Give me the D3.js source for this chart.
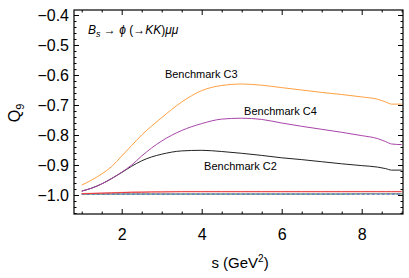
<!DOCTYPE html>
<html>
<head>
<meta charset="utf-8">
<script src="https://cdn.jsdelivr.net/npm/d3@7"></script>
<style>
  body { margin: 0; background: #fff; }
  text { font-family: "Liberation Sans", Arial, sans-serif; }
</style>
</head>
<body>
<svg width="409" height="278"></svg>
<script>
// s values (GeV^2) where the curves are sampled
const sVals = [1, 1.25, 1.5, 1.75, 2, 2.25, 2.5, 2.75, 3, 3.5, 4, 4.5, 5, 5.5, 6, 6.5, 7, 7.5, 8, 8.4, 8.6, 8.75, 9];
// benchmark curves
const c3 = [-0.967, -0.950, -0.930, -0.905, -0.870, -0.835, -0.800, -0.770, -0.742, -0.690, -0.652, -0.635, -0.630, -0.634, -0.642, -0.650, -0.658, -0.665, -0.673, -0.681, -0.690, -0.697, -0.697];
const c4 = [-0.987, -0.977, -0.963, -0.945, -0.924, -0.900, -0.870, -0.843, -0.820, -0.785, -0.762, -0.747, -0.744, -0.748, -0.760, -0.771, -0.781, -0.791, -0.802, -0.812, -0.822, -0.830, -0.832];
const c2 = [-0.987, -0.977, -0.963, -0.945, -0.925, -0.904, -0.886, -0.873, -0.864, -0.853, -0.851, -0.855, -0.861, -0.868, -0.876, -0.882, -0.889, -0.896, -0.902, -0.907, -0.912, -0.917, -0.917];
// the flat ones near -1
const redLine = [-0.996, -0.995, -0.994, -0.993, -0.992, -0.991, -0.991, -0.990, -0.990, -0.989, -0.989, -0.989, -0.989, -0.989, -0.989, -0.989, -0.989, -0.989, -0.989, -0.989, -0.989, -0.989, -0.989];
const pinkLine = [-0.995, -0.994, -0.993, -0.992, -0.991, -0.990, -0.989, -0.989, -0.988, -0.988, -0.988, -0.988, -0.988, -0.988, -0.988, -0.988, -0.988, -0.988, -0.988, -0.988, -0.988, -0.988, -0.988];
const greenLine = [-0.997, -0.997, -0.997, -0.997, -0.997, -0.997, -0.997, -0.997, -0.997, -0.997, -0.997, -0.997, -0.997, -0.997, -0.997, -0.997, -0.997, -0.997, -0.996, -0.996, -0.996, -0.996, -0.996];
const blueLine = [-0.997, -0.997, -0.997, -0.997, -0.997, -0.997, -0.997, -0.997, -0.997, -0.997, -0.997, -0.997, -0.997, -0.997, -0.997, -0.997, -0.997, -0.997, -0.997, -0.997, -0.997, -0.997, -0.997];
const grayLine = [-0.996, -0.996, -0.996, -0.996, -0.996, -0.996, -0.996, -0.996, -0.996, -0.996, -0.996, -0.996, -0.996, -0.996, -0.996, -0.996, -0.996, -0.996, -0.996, -0.996, -0.996, -0.996, -0.996];

const xTicks = [2, 4, 6, 8];
const yTicks = [-1.0, -0.9, -0.8, -0.7, -0.6, -0.5, -0.4];

const svg = d3.select('svg');
const margin = {top: 10, right: 6, bottom: 64, left: 74};
const innerWidth = +svg.attr('width') - margin.left - margin.right;
const innerHeight = +svg.attr('height') - margin.top - margin.bottom;

const xScale = d3.scaleLinear().domain([0.8075, 9.0325]).range([0, innerWidth]);
const yScale = d3.scaleLinear().domain([-1.0633, -0.3833]).range([innerHeight, 0]);

const g = svg.append('g')
  .attr('transform', `translate(${margin.left}, ${margin.top})`);

// minor tick positions
const xMinor = d3.range(1, 9.01, 0.5).filter(v => xTicks.indexOf(v) < 0);
const yMinor = d3.range(-1.06, -0.38, 0.02).map(v => +v.toFixed(2))
  .filter(v => yTicks.every(t => Math.abs(t - v) > 1e-6));

// frame axes, ticks pointing inward, labels only on bottom and left
const fmt = d3.format('.1f');
g.append('g').attr('transform', `translate(0, ${innerHeight})`)
  .call(d3.axisBottom(xScale).tickValues(xTicks).tickSizeInner(-5).tickSizeOuter(0).tickPadding(15));
g.append('g').attr('transform', `translate(0, ${innerHeight})`)
  .call(d3.axisBottom(xScale).tickValues(xMinor).tickSizeInner(-2.5).tickSizeOuter(0).tickFormat(''));
g.append('g')
  .call(d3.axisTop(xScale).tickValues(xTicks).tickSizeInner(-5).tickSizeOuter(0).tickFormat(''));
g.append('g')
  .call(d3.axisTop(xScale).tickValues(xMinor).tickSizeInner(-2.5).tickSizeOuter(0).tickFormat(''));
g.append('g')
  .call(d3.axisLeft(yScale).tickValues(yTicks).tickSizeInner(-5).tickSizeOuter(0).tickPadding(5).tickFormat(fmt));
g.append('g')
  .call(d3.axisLeft(yScale).tickValues(yMinor).tickSizeInner(-2.5).tickSizeOuter(0).tickFormat(''));
g.append('g').attr('transform', `translate(${innerWidth}, 0)`)
  .call(d3.axisRight(yScale).tickValues(yTicks).tickSizeInner(-5).tickSizeOuter(0).tickFormat(''));
g.append('g').attr('transform', `translate(${innerWidth}, 0)`)
  .call(d3.axisRight(yScale).tickValues(yMinor).tickSizeInner(-2.5).tickSizeOuter(0).tickFormat(''));

// drop the empty labels of the unlabelled sides
g.selectAll('.tick text').filter(function() { return this.textContent === ''; }).remove();
g.selectAll('.tick text').attr('font-size', 16).attr('fill', '#000')
  .attr('font-family', '"Liberation Sans", Arial, sans-serif');
g.selectAll('.domain').remove();

// the frame box itself
g.append('rect')
  .attr('width', innerWidth).attr('height', innerHeight)
  .attr('fill', 'none').attr('stroke', '#000').attr('stroke-width', 1.2);

// curves
const line = vals => d3.line()
  .x((d, i) => xScale(sVals[i]))
  .y(d => yScale(d))
  .curve(d3.curveMonotoneX)(vals);

const series = [
  {vals: greenLine, color: '#3aa84a', dash: null},
  {vals: grayLine, color: '#999999', dash: null},
  {vals: blueLine, color: '#4a5fd8', dash: '3,2'},
  {vals: pinkLine, color: '#f7a0a0', dash: null},
  {vals: redLine, color: '#e8383a', dash: null},
  {vals: c2, color: '#222222', dash: null},
  {vals: c4, color: '#a844a8', dash: null},
  {vals: c3, color: '#ffa040', dash: null}
];
g.selectAll('.curve').data(series).enter().append('path')
  .attr('class', 'curve')
  .attr('d', d => line(d.vals))
  .attr('fill', 'none')
  .attr('stroke', d => d.color)
  .attr('stroke-width', 1)
  .attr('stroke-dasharray', d => d.dash);

// benchmark labels
const labels = [
  {text: 'Benchmark C3', s: 3.08, v: -0.60},
  {text: 'Benchmark C4', s: 5.06, v: -0.724},
  {text: 'Benchmark C2', s: 4.06, v: -0.907}
];
g.selectAll('.bench').data(labels).enter().append('text')
  .attr('class', 'bench')
  .attr('x', d => xScale(d.s))
  .attr('y', d => yScale(d.v))
  .attr('font-size', 11)
  .attr('dominant-baseline', 'middle')
  .text(d => d.text);

// process annotation
const ann = g.append('text')
  .attr('x', 14).attr('y', 24)
  .attr('font-size', 12).attr('font-style', 'italic');
ann.append('tspan').text('B');
ann.append('tspan').attr('font-size', 9).attr('dy', 3).text('s');
ann.append('tspan').attr('dy', -3).attr('font-style', 'normal').text(' \u2192 ');
ann.append('tspan').text('\u03d5 ');
ann.append('tspan').attr('font-style', 'normal').text('(\u2192');
ann.append('tspan').text('KK');
ann.append('tspan').attr('font-style', 'normal').text(')');
ann.append('tspan').text('\u03bc\u03bc');

// axis titles
const yTitle = svg.append('text')
  .attr('transform', 'translate(20, 113) rotate(-90)')
  .attr('text-anchor', 'middle')
  .attr('font-size', 16);
yTitle.append('tspan').text('Q');
yTitle.append('tspan').attr('font-size', 11).attr('dy', 4).text('9');

const xTitle = svg.append('text')
  .attr('x', 240).attr('y', 268)
  .attr('text-anchor', 'middle')
  .attr('font-size', 15);
xTitle.append('tspan').text('s (GeV');
xTitle.append('tspan').attr('font-size', 10).attr('dy', -6).text('2');
xTitle.append('tspan').attr('dy', 6).text(')');
</script>
</body>
</html>
